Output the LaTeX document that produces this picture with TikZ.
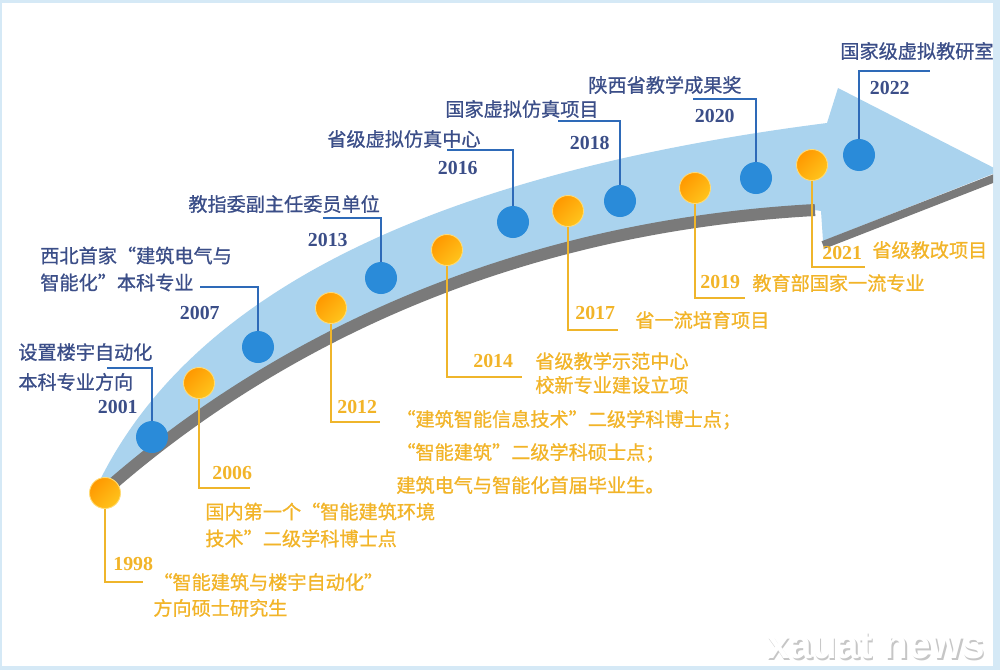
\documentclass[tikz,border=0pt]{standalone}
\usepackage{fontspec}
\setmainfont{Liberation Serif}
\newfontfamily\cjk[FakeBold=0.8]{Noto Sans CJK SC}
\newfontfamily\wmfont{Liberation Sans}
\definecolor{cFrame}{HTML}{D5E9F6}
\definecolor{cBand}{HTML}{AAD3EE}
\definecolor{cShadow}{HTML}{7A7A7A}
\definecolor{cBlueDot}{HTML}{2A8BD9}
\definecolor{cBlueLine}{HTML}{2E6AB8}
\definecolor{cBlueText}{HTML}{3B4E88}
\definecolor{cGold}{HTML}{F2B428}
\definecolor{cGoldLine}{HTML}{EFB52B}
\definecolor{cOrA}{HTML}{FF9800}
\definecolor{cOrB}{HTML}{FFC41C}
\newcommand\drawBlueEvent[5]{%
\node[bdot] (b#5) at (#1,#2) {};
\coordinate (bk#5) at (#1,#3);
\coordinate (be#5) at (#4,#3);
\draw[bline] (b#5) -- (bk#5) -- (be#5);
}
\newcommand\drawGoldEvent[5]{%
\node[odot] (o#5) at (#1,#2) {};
\coordinate (ok#5) at (#1,#3);
\coordinate (oe#5) at (#4,#3);
\draw[oline] (o#5) -- (ok#5) -- (oe#5);
}
\begin{document}
\begin{tikzpicture}[x=0.02cm,y=-0.02cm,
			arrowband/.style={fill=cBand},
			shadowband/.style={draw=cShadow, line width=0.24cm},
			bdot/.style={circle, fill=cBlueDot, minimum size=0.64cm, inner sep=0pt},
			odot/.style={circle, top color=cOrA, bottom color=cOrB, shading angle=45, draw=cOrB!60!white, line width=0.5pt, minimum size=0.62cm, inner sep=0pt},
			bline/.style={draw=cBlueLine, line width=1.3pt},
			oline/.style={draw=cGoldLine, line width=1.6pt},
			btxt/.style={text=cBlueText, font=\cjk\fontsize{10.9}{#1}\selectfont, align=left, inner sep=0pt, anchor=west},
			btxt/.default=13pt,
			otxt/.style={text=cGold, font=\cjk\fontsize{10.9}{#1}\selectfont, align=left, inner sep=0pt, anchor=west},
			otxt/.default=13pt,
			byear/.style={text=cBlueText, font=\bfseries\fontsize{11.3}{13}\selectfont, inner sep=0pt, anchor=east},
			oyear/.style={text=cGold, font=\bfseries\fontsize{11.3}{13}\selectfont, inner sep=0pt, anchor=west},
			wmark/.style={font=\wmfont\bfseries\fontsize{23}{25}\selectfont, inner sep=0pt}]

			\useasboundingbox (0,0) rectangle (1000,670);
			% drawing frame
			\fill[cFrame] (0,0) rectangle (1000,670);
			\fill[white] (2,3) rectangle (993,666);

			% drawing arrow
			\begin{scope}
			\clip (2,3) rectangle (993,666);
			\fill[arrowband] (100,480) .. controls (180,320) and (380,180) .. (827,123) -- (838,88) -- (1000,171) -- (823,241) -- (821,211) -- (815,210) .. controls (450,230) and (220,390) .. (108,488) -- cycle;
			\draw[shadowband] (108,488) .. controls (220,390) and (450,230) .. (815,210);
			\draw[shadowband, line width=0.16cm] (823,245) -- (1000,176);
			\end{scope}

			% drawing blue events
			\drawBlueEvent{152}{437}{368}{107}{01}
			\drawBlueEvent{258}{347}{287}{200}{07}
			\drawBlueEvent{381}{278}{218}{323}{13}
			\drawBlueEvent{513}{222}{150}{447}{16}
			\drawBlueEvent{620}{201}{121}{558}{18}
			\drawBlueEvent{756}{178}{99}{693}{20}
			\drawBlueEvent{859}{155}{71}{930}{22}

			% drawing orange events
			\drawGoldEvent{105}{493}{582}{143}{98}
			\drawGoldEvent{199}{383}{488}{250}{06}
			\drawGoldEvent{331}{308}{422}{380}{12}
			\drawGoldEvent{447}{250}{377}{522}{14}
			\drawGoldEvent{568}{211}{330}{618}{17}
			\drawGoldEvent{695}{188}{298}{745}{19}
			\drawGoldEvent{812}{165}{267}{865}{21}

			% blue labels
			\node[btxt=17pt] (t01) at (18,367) {设置楼宇自动化\\本科专业方向};
			\node[byear] (y01) at (138,407) {2001};
			\node[btxt=15.3pt] (t07) at (40,269) {西北首家“建筑电气与\\智能化”本科专业};
			\node[byear] (y07) at (220,313) {2007};
			\node[btxt] (t13) at (188,204) {教指委副主任委员单位};
			\node[byear] (y13) at (348,240) {2013};
			\node[btxt] (t16) at (327,139) {省级虚拟仿真中心};
			\node[byear] (y16) at (478,168) {2016};
			\node[btxt] (t18) at (445,109) {国家虚拟仿真项目};
			\node[byear] (y18) at (610,143) {2018};
			\node[btxt] (t20) at (588,85) {陕西省教学成果奖};
			\node[byear] (y20) at (735,116) {2020};
			\node[btxt] (t22) at (840,51) {国家级虚拟教研室};
			\node[byear] (y22) at (910,88) {2022};

			% orange labels
			\node[oyear] (y98) at (113,564) {1998};
			\node[otxt=14.7pt] (t98) at (153,595) {“智能建筑与楼宇自动化”\\方向硕士研究生};
			\node[oyear] (y06) at (212,473) {2006};
			\node[otxt=15.3pt] (t06) at (205,525) {国内第一个“智能建筑环境\\技术”二级学科博士点};
			\node[oyear] (y12) at (337,407) {2012};
			\node[otxt=18.8pt] (t12) at (396,452) {“建筑智能信息技术”二级学科博士点；\\“智能建筑”二级学科硕士点；\\建筑电气与智能化首届毕业生。};
			\node[oyear] (y14) at (473,361) {2014};
			\node[otxt=13.6pt] (t14) at (535,373) {省级教学示范中心\\校新专业建设立项};
			\node[oyear] (y17) at (575,313) {2017};
			\node[otxt] (t17) at (635,320) {省一流培育项目};
			\node[oyear] (y19) at (700,282) {2019};
			\node[otxt] (t19) at (752,283) {教育部国家一流专业};
			\node[oyear] (y21) at (822,253) {2021};
			\node[otxt] (t21) at (872,250) {省级教改项目};

			% watermark
			\node[wmark, text=gray!45] (wms) at (877.5,647.5) {xauat news};
			\node[wmark, text=white] (wm) at (876,646) {xauat news};

		\end{tikzpicture}
\end{document}
